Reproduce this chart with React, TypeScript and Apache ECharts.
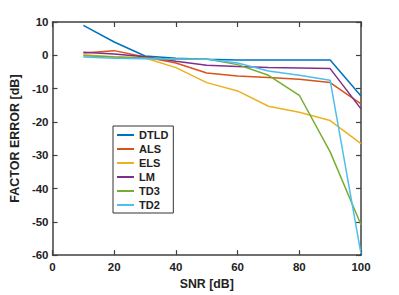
import React, { useEffect, useRef } from "react";
import * as echarts from "echarts";

const snr = [10, 20, 30, 40, 50, 60, 70, 80, 90, 100];
const seriesNames = ["DTLD", "ALS", "ELS", "LM", "TD3", "TD2"];
const colors = ["#0072BD", "#D95319", "#EDB120", "#7E2F8E", "#77AC30", "#4DBEEE"];
const dtld = [9.0, 4.0, -0.2, -0.9, -1.2, -1.4, -1.4, -1.4, -1.4, -12.2];
const als = [0.7, 1.4, -0.5, -2.3, -5.3, -6.2, -6.7, -7.2, -8.2, -14.6];
const els = [0.2, -0.4, -0.8, -3.7, -8.2, -10.7, -15.3, -17.1, -19.6, -26.5];
const lm = [0.9, 0.4, -0.4, -1.8, -3.0, -3.4, -3.7, -3.8, -4.0, -16.1];
const td3 = [-0.1, -0.5, -0.8, -1.2, -1.1, -2.8, -6.0, -12.0, -29.0, -50.9];
const td2 = [-0.5, -0.9, -1.0, -1.1, -1.2, -2.3, -4.7, -6.0, -7.5, -59.6];
const allValues = [dtld, als, els, lm, td3, td2];
const xTicks = [0, 20, 40, 60, 80, 100];
const yTicks = [-60, -50, -40, -30, -20, -10, 0, 10];

export default function App() {
  const ref = useRef<HTMLDivElement>(null);
  useEffect(() => {
    if (!ref.current) return;
    const chart = echarts.init(ref.current, null, { renderer: "svg" });
    const axisColor = "#404040";
    const font = "Liberation Sans, Arial, sans-serif";
    const axisCommon = {
      axisLine: { show: true, onZero: false, lineStyle: { color: axisColor, width: 1.5 } },
      axisTick: { show: true, inside: true, length: 5, lineStyle: { color: axisColor, width: 1.2 } },
      splitLine: { show: false },
    };
    chart.setOption({
      animation: false,
      backgroundColor: "#fff",
      grid: { left: 52, top: 22, right: 38, bottom: 36, containLabel: false },
      xAxis: [
        {
          type: "value",
          min: xTicks[0],
          max: xTicks[xTicks.length - 1],
          interval: 20,
          position: "bottom",
          name: "SNR [dB]",
          nameLocation: "middle",
          nameGap: 20,
          nameTextStyle: { fontFamily: font, fontWeight: "bold", fontSize: 12.3, color: "#222" },
          axisLabel: { fontFamily: font, fontWeight: "bold", fontSize: 11.5, color: "#222", margin: 6 },
          ...axisCommon,
        },
        {
          type: "value",
          min: xTicks[0],
          max: xTicks[xTicks.length - 1],
          interval: 20,
          position: "top",
          axisLabel: { show: false },
          ...axisCommon,
        },
      ],
      yAxis: [
        {
          type: "value",
          min: yTicks[0],
          max: yTicks[yTicks.length - 1],
          interval: 10,
          position: "left",
          name: "FACTOR ERROR [dB]",
          nameLocation: "middle",
          nameGap: 21,
          nameRotate: 90,
          nameTextStyle: { fontFamily: font, fontWeight: "bold", fontSize: 12.5, color: "#222" },
          axisLabel: { fontFamily: font, fontWeight: "bold", fontSize: 11.5, color: "#222", margin: 4 },
          ...axisCommon,
        },
        {
          type: "value",
          min: yTicks[0],
          max: yTicks[yTicks.length - 1],
          interval: 10,
          position: "right",
          axisLabel: { show: false },
          ...axisCommon,
        },
      ],
      legend: {
        data: seriesNames,
        orient: "vertical",
        left: 113,
        top: 126,
        padding: [3, 5, 2, 4],
        itemGap: 2,
        itemWidth: 17,
        itemHeight: 2,
        icon: "rect",
        borderColor: "#333",
        borderWidth: 1,
        backgroundColor: "#fff",
        borderRadius: 0,
        textStyle: { fontFamily: font, fontWeight: "bold", fontSize: 11, color: "#222", lineHeight: 12 },
      },
      series: seriesNames.map((name, i) => ({
        name,
        type: "line",
        data: snr.map((x, j) => [x, allValues[i][j]]),
        showSymbol: false,
        symbol: "none",
        lineStyle: { color: colors[i], width: 1.5 },
        itemStyle: { color: colors[i] },
        z: 2 + i,
      })),
    });
    return () => chart.dispose();
  }, []);
  return <div ref={ref} style={{ width: 399, height: 295, position: "fixed", left: 0, top: 0 }} />;
}
